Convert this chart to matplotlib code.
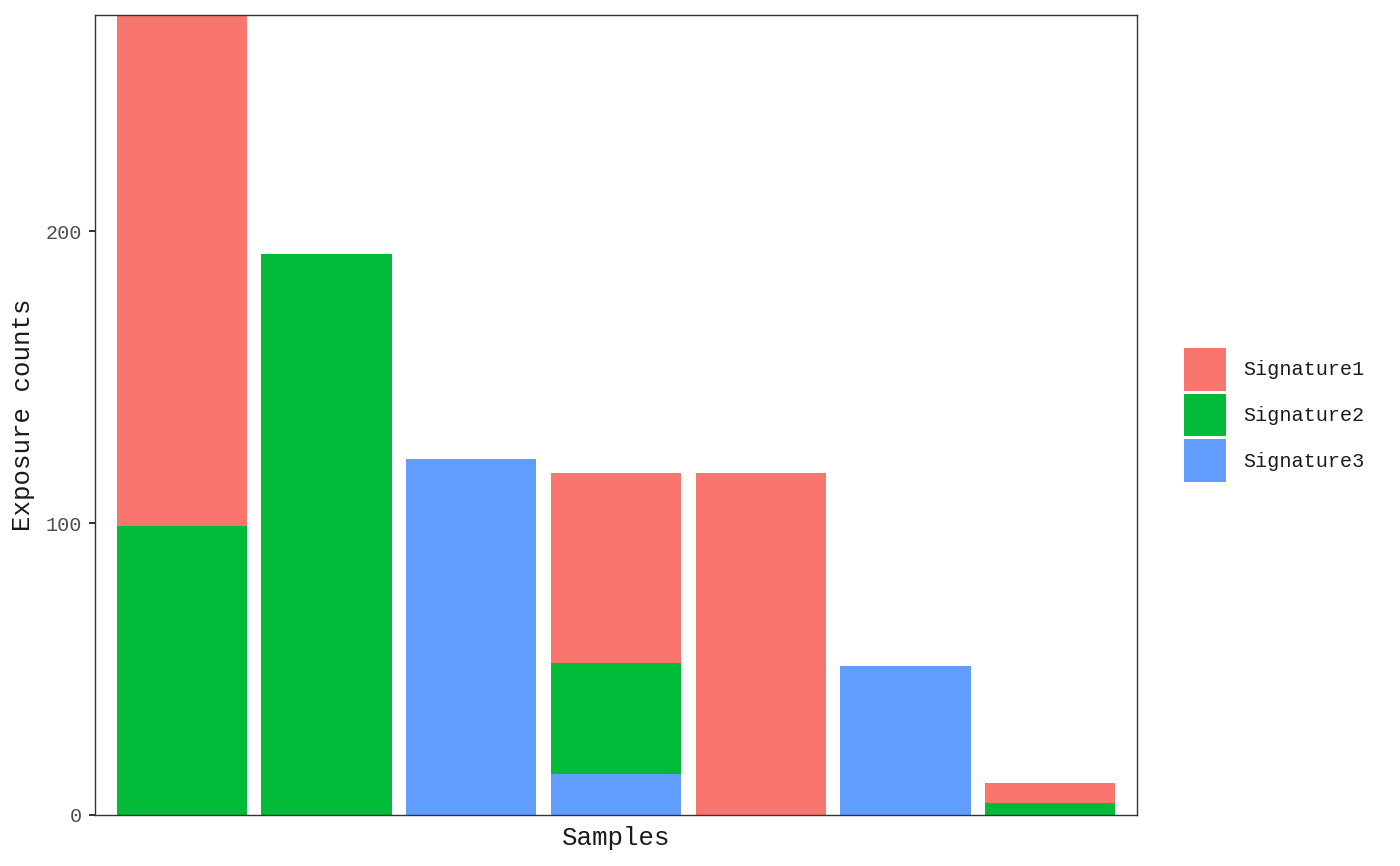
import numpy as np
import matplotlib.pyplot as plt
from matplotlib.patches import Patch

plt.rcParams['font.family'] = ['Liberation Mono', 'DejaVu Sans Mono']

samples = ["S1", "S2", "S3", "S4", "S5", "S6", "S7"]
signatures = ["Signature1", "Signature2", "Signature3"]
sig1 = [175, 0, 0, 65, 117, 0, 7]
sig2 = [99, 192, 0, 38, 0, 0, 4]
sig3 = [0, 0, 122, 14, 0, 51, 0]
colors = ["#F8766D", "#00BA38", "#619CFF"]

x = np.arange(1, len(samples) + 1)
s1 = np.array(sig1)
s2 = np.array(sig2)
s3 = np.array(sig3)

fig = plt.figure(figsize=(14, 8.66), dpi=100)
ax = fig.add_axes([95 / 1400, 51 / 866, 1042 / 1400, 800 / 866])

# ggplot stacking: last level at the bottom
ax.bar(x, s3, width=0.9, color=colors[2], linewidth=0)
ax.bar(x, s2, width=0.9, bottom=s3, color=colors[1], linewidth=0)
ax.bar(x, s1, width=0.9, bottom=s3 + s2, color=colors[0], linewidth=0)

total = s1 + s2 + s3
ax.set_xlim(0.4, len(samples) + 0.6)
ax.set_ylim(0, total.max())
ax.set_yticks([0, 100, 200])
ax.set_xticks([])

for sp in ax.spines.values():
    sp.set_color("#333333")
    sp.set_linewidth(1.0)

ax.tick_params(axis="y", length=4.3, width=1.4, color="#333333",
               labelcolor="#4D4D4D", labelsize=14.5, pad=5)

ax.set_xlabel("Samples", fontsize=18.5, color="#1A1A1A", labelpad=8)
ax.set_ylabel("Exposure counts", fontsize=18.5, color="#1A1A1A", labelpad=8)

handles = [Patch(facecolor=c, edgecolor="none") for c in colors]
leg = ax.legend(handles, signatures, loc="center left",
                bbox_to_anchor=(1.037, 0.5), frameon=False,
                fontsize=14.5, handlelength=2.1, handleheight=2.9,
                labelspacing=0.15, handletextpad=0.85, borderaxespad=0)
for t in leg.get_texts():
    t.set_color("#1A1A1A")

fig.savefig("out.png", dpi=100)
